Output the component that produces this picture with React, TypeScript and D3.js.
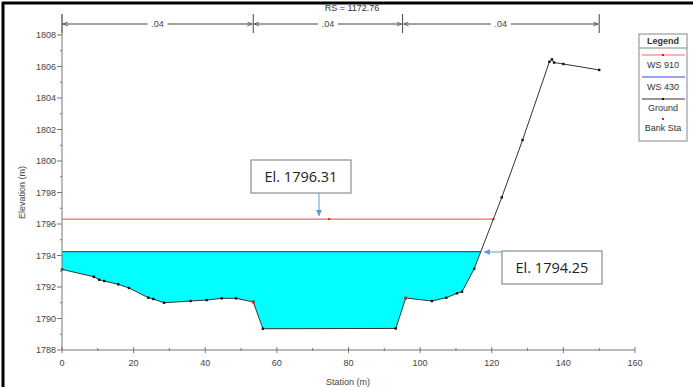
import React from 'react'
import * as d3 from 'd3'

// cross section RS = 1172.76
const groundStation = [0, 8.9, 10.4, 11.8, 15.7, 18.7, 24.1, 25.5, 28.5, 35.9, 40.4, 44.6, 48.6, 53.4, 56.1, 93.2, 96.0, 103.3, 107.3, 110.3, 111.7, 115.1, 122.8, 128.6, 136.1, 136.8, 137.4, 140.0, 150.0]
const groundElev = [1793.12, 1792.65, 1792.46, 1792.38, 1792.17, 1791.94, 1791.32, 1791.24, 1791.0, 1791.11, 1791.17, 1791.28, 1791.28, 1791.05, 1789.35, 1789.37, 1791.3, 1791.11, 1791.32, 1791.6, 1791.7, 1793.16, 1797.69, 1801.33, 1806.3, 1806.45, 1806.25, 1806.16, 1805.78]
const bankStations = [53.4, 96.0]
const ws910 = 1796.31
const ws430 = 1794.25
const ws910Marks = [74.6]
const nBreaks = [0, 53.4, 95.1, 150]
const nValues = ['.04', '.04', '.04']
const xTicks = [0, 20, 40, 60, 80, 100, 120, 140, 160]
const yTicks = [1788, 1790, 1792, 1794, 1796, 1798, 1800, 1802, 1804, 1806, 1808]

const W = 693
const H = 387
const axisFont = '"Liberation Sans", Arial, sans-serif'
const noteFont = '"Open Sans", sans-serif'

const ground = groundStation.map((s, i) => ({ s, e: groundElev[i] }))

// station where the water surface meets the right bank
function rightEdge(ws: number) {
  for (let i = 1; i < ground.length; i++) {
    const a = ground[i - 1], b = ground[i]
    if (a.e < ws && b.e >= ws && a.s > 100) return a.s + (ws - a.e) / (b.e - a.e) * (b.s - a.s)
  }
  return 0
}

function elevAt(s: number) {
  for (let i = 1; i < ground.length; i++) {
    const a = ground[i - 1], b = ground[i]
    if (s >= a.s && s <= b.s) return a.e + (s - a.s) / (b.s - a.s) * (b.e - a.e)
  }
  return 0
}

export default function App() {
  const x = d3.scaleLinear().domain([0, 160]).range([62, 635])
  const y = d3.scaleLinear().domain([1788, 1808]).range([350, 35])

  const r910 = rightEdge(ws910)
  const r430 = rightEdge(ws430)

  const wet = ground.filter(d => d.s < r430).concat([{ s: r430, e: ws430 }])
  const area = d3.area<{ s: number; e: number }>()
    .x(d => x(d.s))
    .y0(d => y(d.e))
    .y1(y(ws430))
  const line = d3.line<{ s: number; e: number }>().x(d => x(d.s)).y(d => y(d.e))

  const minorY = d3.range(1789, 1808, 2)
  const minorX = d3.range(10, 160, 20)
  const nY = 24

  return (
    <svg width={W} height={H} style={{ position: 'absolute', left: 0, top: 0, background: '#fff' }}>
      <defs>
        <marker id="ah" viewBox="0 0 10 10" refX="10" refY="5" markerWidth="5" markerHeight="5" orient="auto-start-reverse">
          <path d="M0,1 L10,5 L0,9" fill="none" stroke="#444" strokeWidth="1.5" />
        </marker>
        <marker id="blue" viewBox="0 0 10 10" refX="10" refY="5" markerWidth="6" markerHeight="6" orient="auto">
          <path d="M0,0 L10,5 L0,10 Z" fill="#5b9bd5" />
        </marker>
      </defs>

      <text x={352} y={11} textAnchor="middle" fontFamily={axisFont} fontSize={9} fill="#333">RS = 1172.76</text>

      {/* roughness segments */}
      <g stroke="#444" fill="none">
        {nBreaks.map(b => <line key={b} x1={x(b)} x2={x(b)} y1={14} y2={33} />)}
        {nValues.map((v, i) => {
          const a = x(nBreaks[i]), b = x(nBreaks[i + 1]), m = (a + b) / 2
          return (
            <g key={i}>
              <line x1={m - 10} x2={a + 1} y1={nY} y2={nY} markerEnd="url(#ah)" />
              <line x1={m + 10} x2={b - 1} y1={nY} y2={nY} markerEnd="url(#ah)" />
              <text x={m} y={nY + 3} textAnchor="middle" stroke="none" fill="#444" fontFamily={axisFont} fontSize={9}>{v}</text>
            </g>
          )
        })}
      </g>

      {/* water */}
      <path d={area(wet) || ''} fill="#00ffff" />
      <line x1={x(0)} x2={x(r430)} y1={y(ws430)} y2={y(ws430)} stroke="#3c3cf5" strokeWidth={1.2} />
      <line x1={x(0)} x2={x(r910)} y1={y(ws910)} y2={y(ws910)} stroke="#f26b6b" strokeWidth={1.2} />
      {ws910Marks.concat([r910]).map(s => <rect key={s} x={x(s) - 1} y={y(ws910) - 1} width={2} height={2} fill="#e02020" />)}

      {/* ground */}
      <path d={line(ground) || ''} fill="none" stroke="#333" strokeWidth={1} />
      {ground.map(d => <rect key={d.s} x={x(d.s) - 1.2} y={y(d.e) - 1.2} width={2.4} height={2.4} fill="#111" />)}
      {bankStations.map(s => <rect key={s} x={x(s) - 1.3} y={y(elevAt(s)) - 1.3} width={2.6} height={2.6} fill="#e02020" />)}

      {/* axes */}
      <g stroke="#777" fill="none">
        <line x1={x(0)} x2={x(0)} y1={14} y2={y(1788)} />
        <line x1={x(0)} x2={x(160)} y1={y(1788)} y2={y(1788)} />
        {yTicks.map(t => <line key={t} x1={x(0) - 5} x2={x(0)} y1={y(t)} y2={y(t)} />)}
        {minorY.map(t => <line key={t} x1={x(0) - 2} x2={x(0)} y1={y(t)} y2={y(t)} />)}
        {xTicks.map(t => <line key={t} x1={x(t)} x2={x(t)} y1={y(1788) - 3} y2={y(1788) + 3} />)}
        {minorX.map(t => <line key={t} x1={x(t)} x2={x(t)} y1={y(1788) - 2} y2={y(1788) + 1} />)}
      </g>
      <g fontFamily={axisFont} fontSize={9} fill="#444">
        {yTicks.map(t => <text key={t} x={x(0) - 6} y={y(t) + 3} textAnchor="end">{t}</text>)}
        {xTicks.map(t => <text key={t} x={x(t)} y={366} textAnchor="middle">{t}</text>)}
        <text x={348} y={385} textAnchor="middle">Station (m)</text>
        <text transform={`translate(25,${(y(1788) + y(1808)) / 2}) rotate(-90)`} textAnchor="middle">Elevation (m)</text>
      </g>

      {/* annotations */}
      <rect x={251} y={160} width={100} height={33} fill="#fff" stroke="#777" />
      <text x={301} y={182} textAnchor="middle" fontFamily={noteFont} fontSize={14.5} fill="#222">El. 1796.31</text>
      <line x1={319} x2={319} y1={193} y2={y(ws910) - 3} stroke="#5b9bd5" strokeWidth={1} markerEnd="url(#blue)" />
      <rect x={502} y={251} width={100} height={33} fill="#fff" stroke="#777" />
      <text x={552} y={273} textAnchor="middle" fontFamily={noteFont} fontSize={14.5} fill="#222">El. 1794.25</text>
      <line x1={502} x2={x(r430) + 3} y1={252} y2={252} stroke="#5b9bd5" strokeWidth={1} markerEnd="url(#blue)" />

      {/* legend */}
      <g fontFamily={axisFont} fontSize={9} fill="#333" textAnchor="middle">
        <rect x={639} y={34} width={48} height={107} fill="#fff" stroke="#888" />
        <line x1={639} x2={687} y1={48} y2={48} stroke="#888" />
        <text x={663} y={44} fontWeight="bold">Legend</text>
        <line x1={642} x2={685} y1={55} y2={55} stroke="#f26b6b" />
        <rect x={662} y={54} width={2} height={2} fill="#e02020" />
        <text x={663} y={68}>WS 910</text>
        <line x1={642} x2={685} y1={77} y2={77} stroke="#3c3cf5" />
        <text x={663} y={90}>WS 430</text>
        <line x1={642} x2={685} y1={99} y2={99} stroke="#333" />
        <rect x={662} y={98} width={2} height={2} fill="#111" />
        <text x={663} y={111}>Ground</text>
        <rect x={662} y={118} width={2} height={2} fill="#e02020" />
        <text x={663} y={131}>Bank Sta</text>
      </g>

      {/* frame */}
      <line x1={3} x2={3} y1={2} y2={H} stroke="#000" strokeWidth={3} />
      <line x1={2} x2={W} y1={3} y2={3} stroke="#000" strokeWidth={3} />
    </svg>
  )
}
